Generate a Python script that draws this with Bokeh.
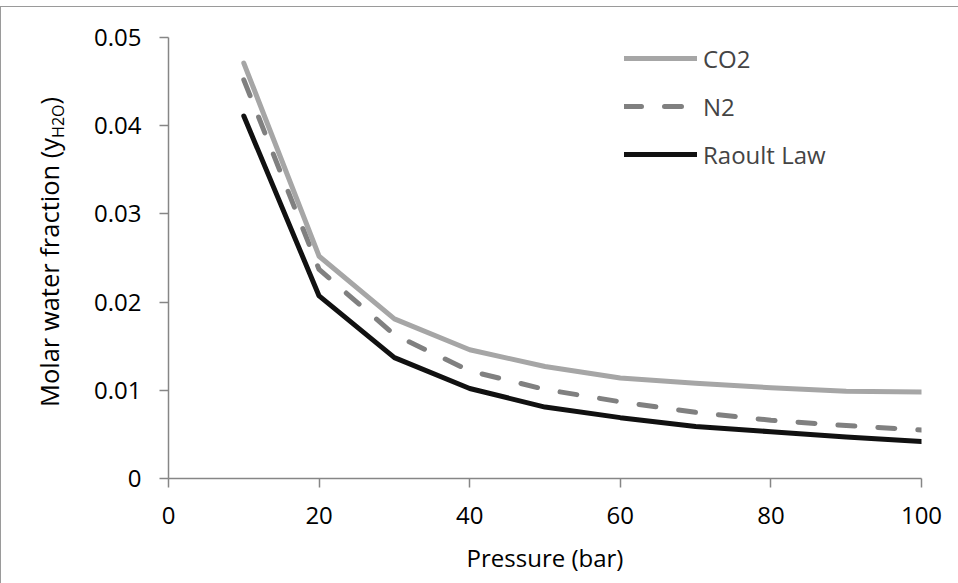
from bokeh.plotting import figure
from bokeh.models import Range1d, FixedTicker, Legend, LegendItem, Div, Row
from bokeh.embed import file_html
from bokeh.resources import INLINE

pressure = [10, 20, 30, 40, 50, 60, 70, 80, 90, 100]
co2 = [0.0471, 0.0252, 0.0181, 0.0146, 0.0127, 0.0114, 0.0108, 0.0103, 0.0099, 0.0098]
n2 = [0.0452, 0.0237, 0.0163, 0.0122, 0.0101, 0.0087, 0.0075, 0.0066, 0.0060, 0.0055]
raoult = [0.0411, 0.0207, 0.0137, 0.0102, 0.0081, 0.0069, 0.0059, 0.0053, 0.0047, 0.0042]

x_ticks = [0, 20, 40, 60, 80, 100]
y_ticks = [0, 0.01, 0.02, 0.03, 0.04, 0.05]
y_tick_labels = ["0", "0.01", "0.02", "0.03", "0.04", "0.05"]

FONT = "Open Sans"
AXIS = "#868686"
DIV_W = 70

p = figure(width=948 - DIV_W, height=573, output_backend="svg", toolbar_location=None,
           x_range=Range1d(0, 100), y_range=Range1d(0, 0.05),
           min_border_left=157 - DIV_W, min_border_right=38, min_border_top=30, min_border_bottom=102)
p.outline_line_color = None
p.background_fill_color = "white"
p.border_fill_color = "white"
p.xgrid.visible = False
p.ygrid.visible = False

for ax in (p.xaxis[0], p.yaxis[0]):
    ax.axis_line_color = AXIS
    ax.axis_line_width = 1.5
    ax.major_tick_line_color = AXIS
    ax.major_tick_line_width = 1.5
    ax.minor_tick_line_color = None
    ax.major_tick_in = 0
    ax.major_label_text_font = FONT
    ax.major_label_text_font_size = "24px"
    ax.major_label_text_color = "black"
    ax.axis_label_text_font = FONT
    ax.axis_label_text_font_size = "24px"
    ax.axis_label_text_font_style = "normal"
    ax.axis_label_text_color = "black"

p.xaxis.ticker = FixedTicker(ticks=x_ticks)
p.xaxis.major_tick_out = 9
p.xaxis.major_label_standoff = 19
p.xaxis.axis_label = "Pressure (bar)"
p.xaxis.axis_label_standoff = 14

p.yaxis.ticker = FixedTicker(ticks=y_ticks)
p.yaxis.major_label_overrides = {t: s for t, s in zip(y_ticks, y_tick_labels)}
p.yaxis.major_tick_out = 9
p.yaxis.major_label_standoff = 18

r_co2 = p.line(pressure, co2, line_color="#a6a6a6", line_width=5, line_join="round", line_cap="round")
r_n2 = p.line(pressure, n2, line_color="#808080", line_width=5, line_dash="17 23", line_cap="round", line_join="round")
r_ra = p.line(pressure, raoult, line_color="#111111", line_width=5, line_join="round", line_cap="round")

legend = Legend(items=[LegendItem(label="CO2", renderers=[r_co2]),
                       LegendItem(label="N2", renderers=[r_n2]),
                       LegendItem(label="Raoult Law", renderers=[r_ra])],
                location=(456, 304), padding=0, margin=0, spacing=8,
                glyph_width=73, glyph_height=40, label_standoff=6,
                label_text_font=FONT, label_text_font_size="24px",
                border_line_color=None, background_fill_alpha=0)
p.add_layout(legend)

ytitle = Div(width=DIV_W, height=573, styles={"background-color": "white"},
             text=('<div style="position:absolute; left:44px; top:240px; '
                   'transform: translate(-50%, -50%) rotate(-90deg); white-space: nowrap; '
                   'font-family: \'Open Sans\'; font-size: 25.5px; color: black; line-height: 1;">'
                   'Molar water fraction (y<span style="font-size:16px; position:relative; top:5px;">H2O</span>)'
                   '</div>'))

layout = Row(ytitle, p, spacing=0,
             styles={"margin-top": "6px", "background-color": "white",
                     "border-left": "1px solid #9a9a9a", "border-top": "1px solid #9a9a9a",
                     "border-bottom": "1px solid #c8c8c8"})

open("out.html", "w").write(file_html(layout, INLINE))
